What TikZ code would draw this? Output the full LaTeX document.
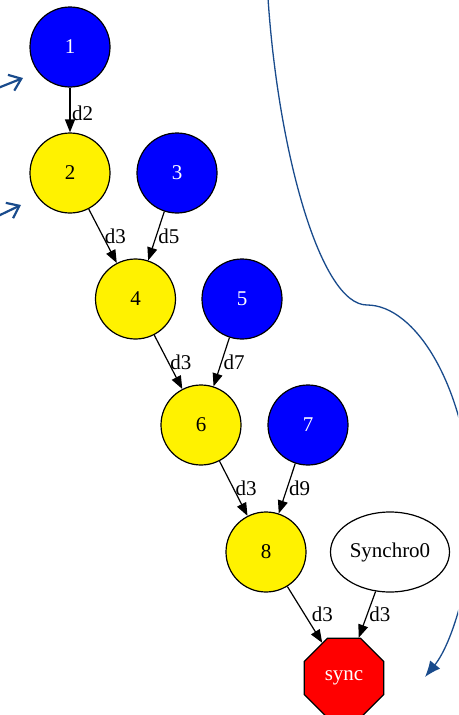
\documentclass[tikz,border=0pt]{standalone}
\usepackage{fontspec}
\setmainfont{Liberation Serif}
\usetikzlibrary{arrows.meta,shapes.geometric}
\definecolor{curveblue}{RGB}{25,75,140}
\tikzset{
	txt/.style={font=\fontsize{21}{24}\selectfont},
	task/.style={circle, draw=black, line width=1.2pt, minimum size=80pt, inner sep=0pt, txt},
	bluetask/.style={task, fill=blue, text=white},
	yellowtask/.style={task, fill=yellow, text=black},
	synctask/.style={regular polygon, regular polygon sides=8, draw=black, line width=1.2pt, minimum size=86pt, inner sep=0pt, fill=red, text=white, txt},
	synchro/.style={ellipse, draw=black, line width=1.2pt, minimum width=119pt, minimum height=80pt, inner sep=0pt, fill=white, txt},
	depline/.style={draw=black, line width=1.2pt, -{Triangle[length=13pt,width=10pt]}},
	deplabel/.style={right, inner sep=1.5pt, txt},
	handarrow/.style={curveblue, line width=2.2pt, -{Straight Barb[length=11pt,width=17pt]}},
}

\begin{document}
\begin{tikzpicture}[x=1pt, y=-1pt]
			%%%%% START %%%%%
			
			\useasboundingbox (0,0) rectangle (458,715);
			
			\node[bluetask] (t1) at (70,47) {1};
			\node[yellowtask] (t2) at (70,173) {2};
			\node[bluetask] (t3) at (177,173) {3};
			\node[yellowtask] (t4) at (135.5,299) {4};
			\node[bluetask] (t5) at (242,299) {5};
			\node[yellowtask] (t6) at (201,425) {6};
			\node[bluetask] (t7) at (308,425) {7};
			\node[yellowtask] (t8) at (266,552) {8};
			\node[synchro] (s0) at (390,552) {Synchro0};
			\node[synctask] (sync) at (344,678) {sync};
			
			\draw[depline] (t1) -- node[deplabel, yshift=-3pt] {d2} (t2);
			\draw[depline] (t2) -- node[deplabel] {d3} (t4);
			\draw[depline] (t3) -- node[deplabel] {d5} (t4);
			\draw[depline] (t4) -- node[deplabel] {d3} (t6);
			\draw[depline] (t5) -- node[deplabel] {d7} (t6);
			\draw[depline] (t6) -- node[deplabel] {d3} (t8);
			\draw[depline] (t7) -- node[deplabel] {d9} (t8);
			\draw[depline] (t8) -- node[deplabel, xshift=5pt] {d3} (sync);
			\draw[depline] (s0) -- node[deplabel] {d3} (sync);
			
			% hand drawn marks
			\coordinate (in1) at (-2,88);
			\coordinate (tip1) at (23,78);
			\coordinate (in2) at (-2,216);
			\coordinate (tip2) at (21,205);
			\draw[handarrow] (in1) -- (tip1);
			\draw[handarrow] (in2) -- (tip2);
			
			\begin{scope}
				\clip (0,0) rectangle (458,715);
				\draw[curveblue, line width=1.3pt, -{Latex[length=16pt,width=13pt]}] (268,-2) .. controls (278,150) and (320,305) .. (367,305)
					.. controls (415,305) and (466,385) .. (472,500)
					.. controls (476,560) and (455,640) .. (425,677);
			\end{scope}
			
			%%%%% END %%%%%
		\end{tikzpicture}
\end{document}
